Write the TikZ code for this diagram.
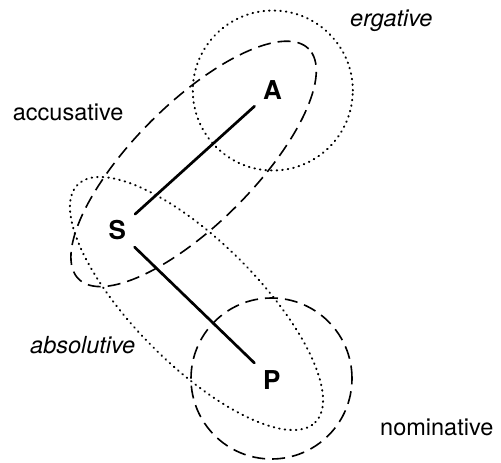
\documentclass[tikz,border=0pt]{standalone}
\usepackage{fontspec}
\setmainfont{TeX Gyre Heros}
\begin{document}
\begin{tikzpicture}[x=1pt,y=-1pt,
  letter/.style={circle,inner sep=0pt,minimum size=48pt,font=\fontsize{26}{30}\selectfont\bfseries},
  lbl/.style={inner sep=0pt,anchor=base west,font=\fontsize{23.5}{28}\selectfont},
  link/.style={line width=2.7pt,line cap=round},
  dashline/.style={line width=1.6pt,dash pattern=on 13pt off 7pt},
  dotline/.style={line width=2pt,line cap=round,dash pattern=on 0.6pt off 5pt}]
\useasboundingbox (0,0) rectangle (501,463);
% groups
\draw[dotline] (272.8,90.5) circle[radius=80pt];
\draw[dashline] (271.5,378.5) circle[radius=80.5pt];
\draw[dashline,rotate around={45:(193.6,163.9)}] (193.6,163.9) ellipse[x radius=162.7pt,y radius=60.2pt];
\draw[dotline,rotate around={-45:(196.5,303.5)}] (196.5,303.5) ellipse[x radius=168pt,y radius=61.6pt];
% arguments
\node[letter] (A) at (272.5,90) {A};
\node[letter] (S) at (117.2,230.3) {S};
\node[letter] (P) at (271.7,379.7) {P};
\draw[link] (A) -- (S);
\draw[link] (S) -- (P);
% labels
\node[lbl] (acc) at (12.7,120) {accusative};
\node[lbl] (erg) at (350,26.7) {\itshape ergative};
\node[lbl] (abs) at (30,353.3) {\itshape absolutive};
\node[lbl] (nom) at (380,435.7) {nominative};
\end{tikzpicture}
\end{document}
